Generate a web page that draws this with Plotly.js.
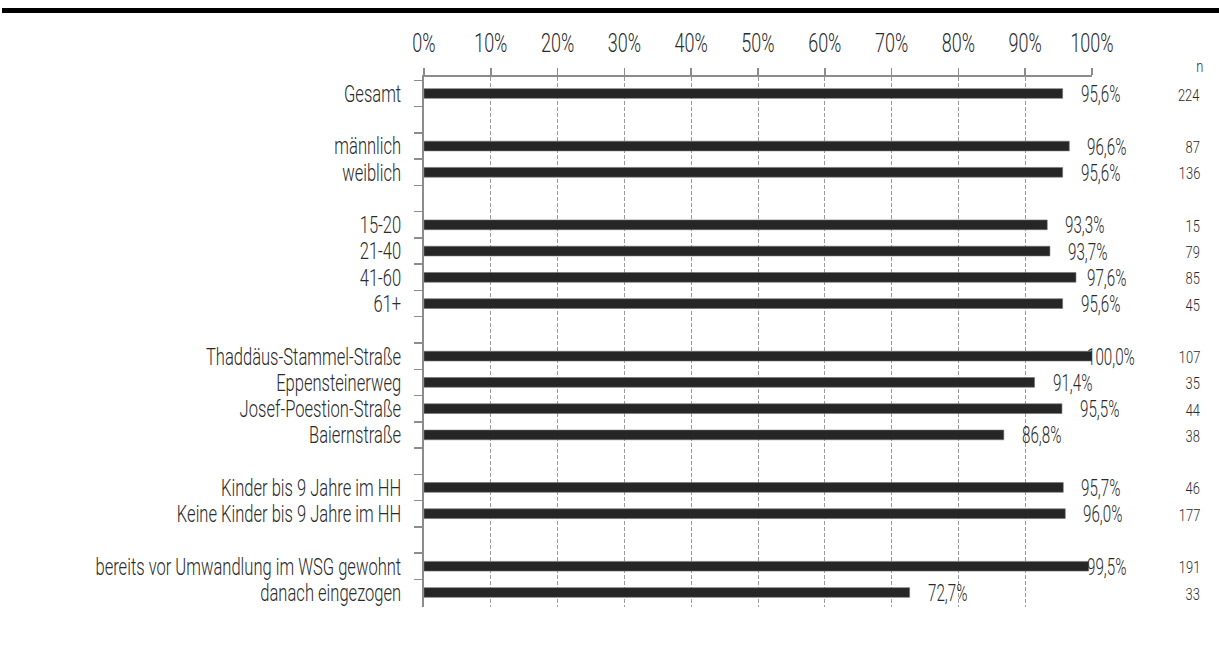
<!DOCTYPE html>
<html>
<head>
<meta charset="utf-8">
<script src="https://cdn.plot.ly/plotly-3.0.1.min.js"></script>
<style>
  html, body { margin: 0; padding: 0; background: #fff; }
  #chart { width: 1219px; height: 647px; }
</style>
</head>
<body>
<div id="chart"></div>
<script>
// Row labels, top to bottom; empty strings are spacer rows between groups
const rowLabels = [
  "Gesamt", "",
  "männlich", "weiblich", "",
  "15-20", "21-40", "41-60", "61+", "",
  "Thaddäus-Stammel-Straße", "Eppensteinerweg", "Josef-Poestion-Straße", "Baiernstraße", "",
  "Kinder bis 9 Jahre im HH", "Keine Kinder bis 9 Jahre im HH", "",
  "bereits vor Umwandlung im WSG gewohnt", "danach eingezogen"
];
// Share in percent (null = spacer row)
const shareValues = [
  95.6, null,
  96.6, 95.6, null,
  93.3, 93.7, 97.6, 95.6, null,
  100.0, 91.4, 95.5, 86.8, null,
  95.7, 96.0, null,
  99.5, 72.7
];
// Sample size per row (null = spacer row)
const sampleSizes = [
  224, null,
  87, 136, null,
  15, 79, 85, 45, null,
  107, 35, 44, 38, null,
  46, 177, null,
  191, 33
];
const xTickValues = [0, 10, 20, 30, 40, 50, 60, 70, 80, 90, 100];

const FONT = "Roboto, 'DejaVu Sans', sans-serif";
const TEXT_COLOR = "#2a2a2a";

// spacer rows need unique category names
const cats = rowLabels.map((l, i) => l === "" ? "\u200b".repeat(i + 1) : l);

const W = 1219, H = 647;
const L = 424, R = 1092, T = 77, B = 607;
const plotW = R - L, plotH = B - T;
const px2paperX = px => (px - L) / plotW;
const px2paperY = py => 1 - (py - T) / plotH;

const barTrace = {
  type: "bar",
  orientation: "h",
  y: cats,
  x: shareValues,
  width: 0.37,
  marker: { color: "#262626", line: { color: "#707070", width: 0.6 } },
  hoverinfo: "skip",
  showlegend: false
};

const annotations = [];
shareValues.forEach((v, i) => {
  if (v === null) return;
  annotations.push({
    x: Math.min(v + 2.4, 99), y: cats[i], xref: "x", yref: "y",
    text: v.toFixed(1).replace(".", ",") + "%",
    showarrow: false, xanchor: "left", align: "left", yanchor: "middle", yshift: -1,
    font: { family: FONT, size: 23, weight: 300, color: TEXT_COLOR }
  });
});
sampleSizes.forEach((n, i) => {
  if (n === null) return;
  annotations.push({
    x: px2paperX(1202), y: cats[i], xref: "paper", yref: "y",
    text: String(n), showarrow: false, xanchor: "right", align: "right", yanchor: "middle", yshift: -1,
    font: { family: FONT, size: 17, weight: 300, color: TEXT_COLOR }
  });
});
annotations.push({
  x: px2paperX(1199), y: px2paperY(66), xref: "paper", yref: "paper",
  text: "n", showarrow: false, xanchor: "center", yanchor: "middle",
  font: { family: FONT, size: 17, weight: 300, color: TEXT_COLOR }
});

const layout = {
  width: W, height: H,
  margin: { l: L, r: W - R, t: T, b: H - B, pad: 0 },
  paper_bgcolor: "#fff", plot_bgcolor: "#fff",
  font: { family: FONT, color: TEXT_COLOR },
  bargap: 0,
  xaxis: {
    side: "top", range: [0, 100], tickvals: xTickValues,
    ticktext: xTickValues.map(v => v + "%"),
    showgrid: true, gridcolor: "#9a9a9a", gridwidth: 1, griddash: "4px,2px",
    showline: true, linecolor: "#8c8c8c", linewidth: 2,
    ticks: "outside", ticklen: 7, tickcolor: "#8c8c8c", tickwidth: 1.5,
    ticklabelstandoff: 6,
    tickfont: { family: FONT, size: 25, weight: 300, color: TEXT_COLOR },
    zeroline: false, fixedrange: true
  },
  yaxis: {
    type: "category", categoryarray: cats, categoryorder: "array",
    autorange: "reversed",
    tickmode: "linear", tick0: 0, dtick: 1,
    showline: true, linecolor: "#8c8c8c", linewidth: 2,
    ticks: "outside", tickson: "boundaries", ticklen: 8, tickcolor: "#8c8c8c", tickwidth: 1.5,
    ticklabelstandoff: 16,
    tickfont: { family: FONT, size: 24, weight: 300, color: TEXT_COLOR },
    showgrid: false, zeroline: false, fixedrange: true
  },
  shapes: [{
    type: "rect", xref: "paper", yref: "paper",
    x0: px2paperX(2), x1: px2paperX(1225),
    y0: px2paperY(13), y1: px2paperY(8),
    fillcolor: "#000", line: { width: 0 }, layer: "above"
  }],
  annotations: annotations
};

// Narrow every label horizontally around its own anchor point,
// giving the tall, compressed lettering of the chart.
function condenseText(gd) {
  gd.querySelectorAll("svg text").forEach(el => {
    const content = el.textContent.replace(/\u200b/g, "");
    if (content.trim() === "") { el.remove(); return; }
    const size = parseFloat(el.style.fontSize) || 16;
    let s = size >= 20 ? 0.66 : 0.76;
    if (el.closest(".ytick")) s = 0.69;
    if (el.closest(".xtick")) s = 0.72;
    const bb = el.getBBox();
    const anchor = el.getAttribute("text-anchor") || "start";
    const ax = anchor === "end" ? bb.x + bb.width
             : anchor === "middle" ? bb.x + bb.width / 2
             : bb.x;
    const prev = el.getAttribute("transform") || "";
    el.setAttribute("transform",
      prev + " translate(" + ax + ",0) scale(" + s + ",1) translate(" + (-ax) + ",0)");
  });
}

Plotly.newPlot("chart", [barTrace], layout, { displayModeBar: false, staticPlot: true })
  .then(condenseText);
</script>
</body>
</html>
